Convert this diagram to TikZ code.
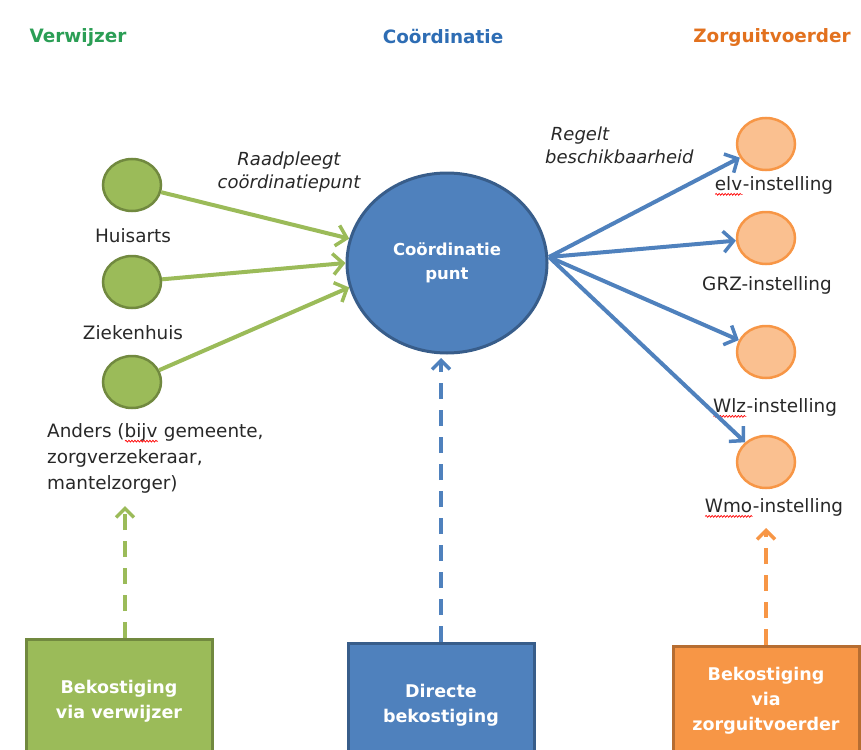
\documentclass[tikz,border=0pt]{standalone}
\usepackage{fontspec}
\setmainfont{DejaVu Sans}
\usetikzlibrary{shapes.geometric,arrows.meta,decorations.pathmorphing}

\definecolor{vwTitle}{RGB}{43,158,85}
\definecolor{coTitle}{RGB}{46,109,180}
\definecolor{zgTitle}{RGB}{226,113,30}
\definecolor{vwFill}{RGB}{155,187,89}
\definecolor{vwLine}{RGB}{113,137,63}
\definecolor{coFill}{RGB}{79,129,189}
\definecolor{coLine}{RGB}{56,93,138}
\definecolor{zgFill}{RGB}{250,192,144}
\definecolor{zgLine}{RGB}{247,150,70}
\definecolor{zgBox}{RGB}{247,150,70}
\definecolor{zgBoxLine}{RGB}{182,109,49}
\definecolor{txt}{RGB}{40,40,40}

% rode kronkellijn van de spellingcontrole
\newlength\spellw
\newcommand\spellchk[1]{\settowidth\spellw{#1}\rlap{#1}\tikz[baseline=0pt,x=1pt,y=1pt]
  \draw[red,line width=0.7pt,decorate,decoration={snake,amplitude=0.9pt,segment length=3pt}]
  (0,-4) -- (\spellw,-4);}

\begin{document}
\begin{tikzpicture}[x=1pt,y=-1pt,
  title/.style={font=\bfseries\fontsize{18.4}{22}\selectfont},
  lbl/.style={font=\fontsize{18.4}{26}\selectfont,text=txt,inner sep=0pt},
  note/.style={font=\itshape\fontsize{18}{23}\selectfont,text=txt,inner sep=0pt},
  bol/.style={ellipse,line width=2.5pt,minimum width=58,minimum height=52,inner sep=0pt},
  gbol/.style={bol,draw=vwLine,fill=vwFill},
  obol/.style={bol,draw=zgLine,fill=zgFill},
  box/.style={rectangle,line width=3pt,minimum width=186,minimum height=124,
    text=white,align=center,font=\bfseries\fontsize{17.5}{25}\selectfont},
  tip/.style={-{Straight Barb[length=10pt,width=21pt,line width=3.5pt]}},
  garrow/.style={draw=vwFill,line width=4pt,tip},
  barrow/.style={draw=coFill,line width=4pt,tip},
  dash arrow/.style={line width=4pt,dash pattern=on 16pt off 11pt,
    -{Straight Barb[length=9pt,width=18pt,line width=3.5pt]}}]
\useasboundingbox (0,0) rectangle (861,749);
\clip (0,0) rectangle (861,749);

% kopjes
\node[title,text=vwTitle] (tverw) at (78,37) {Verwijzer};
\node[title,text=coTitle] (tcoord) at (443,37) {Coördinatie};
\node[title,text=zgTitle] (tzorg) at (772,37) {Zorguitvoerder};

% verwijzers
\node[gbol] (huis) at (132,185) {};
\node[lbl] (lhuis) at (133,236) {Huisarts};
\node[gbol] (zkh) at (132,282) {};
\node[lbl] (lzkh) at (133,333) {Ziekenhuis};
\node[gbol] (anders) at (132,382) {};
\node[lbl,align=left,anchor=north west] (landers) at (47,423)
  {Anders (\spellchk{bijv} gemeente,\\zorgverzekeraar,\\mantelzorger)};

% coordinatiepunt
\node[ellipse,draw=coLine,fill=coFill,line width=3pt,minimum width=200,minimum height=180,
  text=white,align=center,font=\bfseries\fontsize{16.5}{24}\selectfont] (punt) at (447,263)
  {Coördinatie\\punt};
\node[note,align=center] (lraad) at (289,172) {Raadpleegt\\coördinatiepunt};
\node[note,align=left,anchor=north west] (lregel) at (545,127) {\ Regelt\\beschikbaarheid};

% zorguitvoerders
\node[obol] (elv) at (766,144) {};
\node[lbl] (lelv) at (774,186) {\spellchk{elv}-instelling};
\node[obol] (grz) at (766,238) {};
\node[lbl] (lgrz) at (767,285) {GRZ-instelling};
\node[obol] (wlz) at (766,352) {};
\node[lbl] (lwlz) at (775,408) {\spellchk{Wlz}-instelling};
\node[obol] (wmo) at (766,462) {};
\node[lbl] (lwmo) at (774,508) {\spellchk{Wmo}-instelling};

% bekostiging
\node[box,anchor=north,draw=vwLine,fill=vwFill] (bverw) at (119,638) {Bekostiging\\via verwijzer};
\node[box,anchor=north,draw=coLine,fill=coFill] (bdirect) at (441,642) {Directe\\bekostiging};
\node[box,anchor=north,draw=zgBoxLine,fill=zgBox,minimum height=108] (bzorg) at (766,645)
  {Bekostiging\\via\\zorguitvoerder};

% pijlen
\draw[garrow] (huis) -- (punt.166);
\draw[garrow] (zkh) -- (punt.180);
\draw[garrow] (anders) -- (punt.194);

\coordinate (hub) at (549,257);
\draw[barrow] (hub) -- (elv);
\draw[barrow] (hub) -- (grz);
\draw[barrow] (hub) -- (wlz);
\draw[barrow] (hub) -- (wmo);

\coordinate (gtip) at (125,506);
\coordinate (btip) at (441,358);
\coordinate (otip) at (766,528);
\draw[dash arrow,draw=vwFill] (bverw.north -| gtip) -- (gtip);
\draw[dash arrow,draw=coFill] (bdirect.north) -- (btip);
\draw[dash arrow,draw=zgLine] (bzorg.north) -- (otip);
\end{tikzpicture}
\end{document}
